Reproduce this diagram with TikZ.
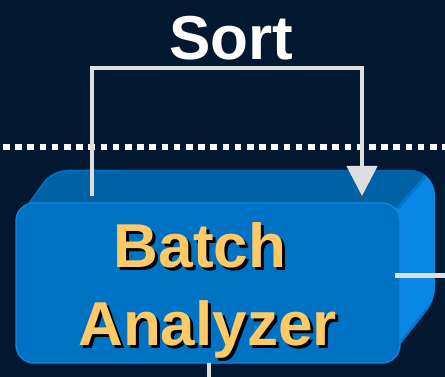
\documentclass[tikz,border=0pt]{standalone}
\usepackage{fontspec}
\setmainfont{Liberation Sans}
\usetikzlibrary{arrows.meta}

\definecolor{bg}{RGB}{2,24,48}
\definecolor{frontclr}{RGB}{0,114,196}
\definecolor{frontedge}{RGB}{22,132,216}
\definecolor{topclr}{RGB}{0,98,164}
\definecolor{topedge}{RGB}{0,112,190}
\definecolor{sideclr}{RGB}{8,136,228}
\definecolor{seamclr}{RGB}{0,118,204}
\definecolor{wireclr}{RGB}{222,222,222}
\definecolor{labelclr}{RGB}{255,201,102}

\tikzset{
  wire/.style={draw=wireclr, line width=4.5pt},
  dotrule/.style={draw=white, line width=6pt, dash pattern=on 6.5pt off 5.7pt},
  frontface/.style={draw=frontedge, line width=1.4pt, fill=frontclr,
    rounded corners=18pt, minimum width=384pt, minimum height=160pt,
    inner sep=0pt, outer sep=0pt},
  bigtext/.style={font=\bfseries\fontsize{62}{62}\selectfont, inner sep=0pt, anchor=base},
  boxtext/.style={bigtext, text=labelclr},
  dropshadow/.style={bigtext, text=black},
  titletext/.style={bigtext, text=white},
}

\begin{document}
\begin{tikzpicture}[x=1pt, y=-1pt]
\useasboundingbox (0,0) rectangle (445,377);
\fill[bg] (0,0) rectangle (445,377);

% dotted separator
\coordinate (ruleL) at (3,147);
\coordinate (ruleR) at (448,147);
\draw[dotrule] (ruleL) -- (ruleR);

% extruded back of the block: side and top faces
\begin{scope}
  \clip (18,218) [rounded corners=15pt] -- (52,170) [rounded corners=25pt] -- (435,170)
        [rounded corners=12pt] -- (435,300) [sharp corners] -- (396,350) -- cycle;
  \fill[sideclr] (0,160) rectangle (445,377);
  \fill[topclr] (0,240) -- (0,160) -- (437,160) -- (398,208) -- cycle;
  \draw[seamclr, line width=3pt] (437,163) -- (398,208);
  \draw[seamclr, line width=3pt] (436,298) -- (398,346);
  \draw[topedge, line width=3pt] (18,218) [rounded corners=15pt] -- (52,170) -- (120,170);
\end{scope}

% front face of the block
\node[frontface] (box) at (208,283) {};

% block label with drop shadow
\node[dropshadow] at (203,271) {Batch};
\node[dropshadow] at (210.5,348) {Analyzer};
\node[boxtext] (batch) at (200,268) {Batch};
\node[boxtext] (analyzer) at (207.5,345) {Analyzer};

% sort loop
\node[titletext] (sort) at (231.5,60) {Sort};
\coordinate (loopout) at (92,196);
\coordinate (loopin) at (362,196);
\draw[wire, -{Triangle[length=30pt,width=30pt]}]
  (loopout) -- (92,68) -- (362,68) -- (loopin);

% outgoing connectors
\coordinate (eastend) at (445,276);
\coordinate (southend) at (209,377);
\draw[wire, line width=5pt] (395,276) -- (eastend);
\draw[wire, line width=4pt] (box.south -| southend) -- (southend);
\end{tikzpicture}
\end{document}
